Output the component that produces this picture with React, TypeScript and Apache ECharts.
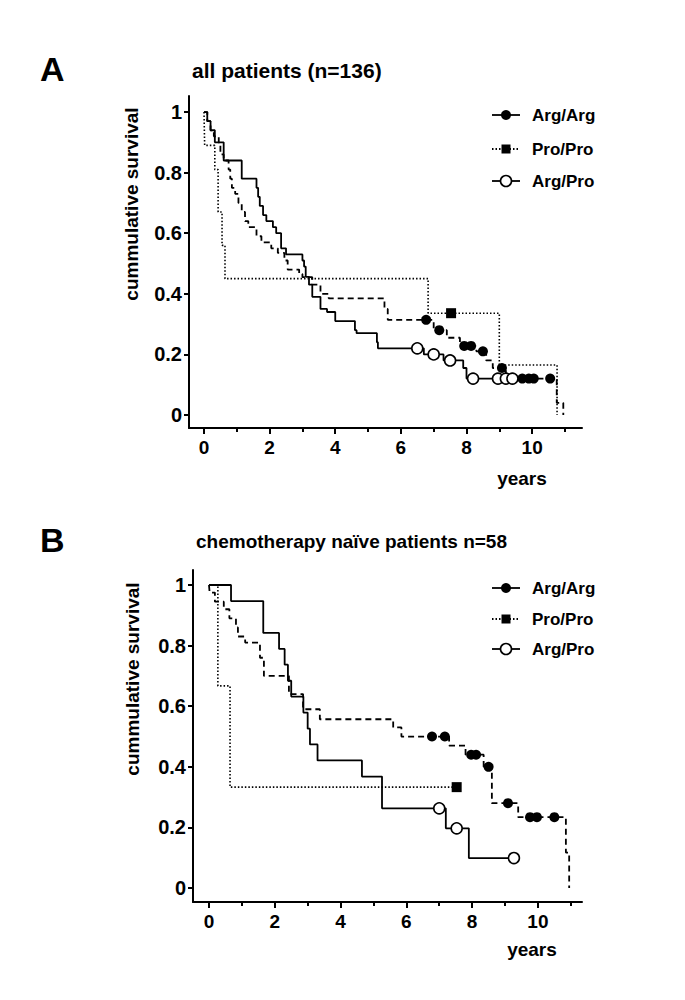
import React, { useEffect, useRef } from "react";
import * as echarts from "echarts";

const FONT = "'Liberation Sans', Arial, Helvetica, sans-serif";

// ---------- Panel A: all patients (n=136) ----------
const aArgArgTimes = [0, 0.1, 0.2, 0.3, 0.45, 0.5, 0.6, 0.75, 0.8, 0.85, 0.95, 1.05, 1.15, 1.25, 1.35, 1.6, 1.75, 2.05, 2.25, 2.45, 2.55, 2.9, 3.0, 3.3, 3.55, 3.8, 5.5, 5.6, 7.0, 7.4, 7.8, 8.3, 8.6, 8.8, 9.2, 10.75, 10.95];
const aArgArgSurv = [1, 0.97, 0.94, 0.92, 0.89, 0.86, 0.84, 0.81, 0.78, 0.75, 0.73, 0.70, 0.67, 0.64, 0.62, 0.59, 0.57, 0.55, 0.535, 0.51, 0.48, 0.465, 0.455, 0.43, 0.40, 0.385, 0.35, 0.314, 0.28, 0.255, 0.228, 0.21, 0.18, 0.155, 0.12, 0.04, 0.0];
const aArgArgCensT = [6.77, 7.17, 7.93, 8.14, 8.5, 9.08, 9.7, 9.9, 10.05, 10.55];
const aArgArgCensS = [0.314, 0.28, 0.228, 0.228, 0.21, 0.155, 0.12, 0.12, 0.12, 0.12];

const aProProTimes = [0, 0.02, 0.33, 0.43, 0.55, 0.64, 6.83, 9.0, 10.76];
const aProProSurv = [1, 0.89, 0.81, 0.67, 0.56, 0.45, 0.336, 0.165, 0.0];
const aProProCensT = [7.53];
const aProProCensS = [0.336];

const aArgProTimes = [0, 0.1, 0.2, 0.33, 0.6, 1.15, 1.6, 1.65, 1.7, 1.8, 1.9, 2.1, 2.2, 2.35, 2.5, 3.0, 3.05, 3.1, 3.2, 3.3, 3.55, 3.75, 4.0, 4.6, 4.65, 5.27, 5.3, 6.7, 7.3, 7.9, 8.0];
const aArgProSurv = [1, 0.97, 0.94, 0.90, 0.84, 0.78, 0.75, 0.72, 0.69, 0.66, 0.64, 0.62, 0.60, 0.55, 0.53, 0.51, 0.49, 0.456, 0.43, 0.39, 0.35, 0.34, 0.31, 0.28, 0.27, 0.24, 0.22, 0.20, 0.18, 0.155, 0.12];
const aArgProCensT = [6.5, 7.0, 7.5, 8.2, 8.96, 9.2, 9.4];
const aArgProCensS = [0.22, 0.20, 0.18, 0.12, 0.12, 0.12, 0.12];

// ---------- Panel B: chemotherapy naïve patients n=58 ----------
const bArgArgTimes = [0, 0.02, 0.18, 0.45, 0.62, 0.82, 0.88, 1.1, 1.55, 1.67, 2.43, 2.86, 3.37, 5.6, 5.85, 7.3, 7.8, 8.35, 8.6, 9.4, 10.85, 10.95];
const bArgArgSurv = [1, 0.975, 0.945, 0.92, 0.89, 0.86, 0.83, 0.81, 0.76, 0.70, 0.64, 0.59, 0.557, 0.53, 0.50, 0.47, 0.44, 0.40, 0.28, 0.234, 0.117, 0.0];
const bArgArgCensT = [6.78, 7.17, 7.97, 8.12, 8.5, 9.09, 9.76, 9.97, 10.5];
const bArgArgCensS = [0.50, 0.50, 0.44, 0.44, 0.40, 0.28, 0.234, 0.234, 0.234];

const bProProTimes = [0, 0.27, 0.64];
const bProProSurv = [1, 0.667, 0.333];
const bProProCensT = [7.53];
const bProProCensS = [0.333];

const bArgProTimes = [0, 0.67, 1.65, 2.13, 2.3, 2.4, 2.5, 2.87, 3.0, 3.07, 3.3, 4.65, 5.26, 7.2, 7.9];
const bArgProSurv = [1, 0.947, 0.842, 0.789, 0.737, 0.684, 0.632, 0.579, 0.526, 0.474, 0.421, 0.368, 0.263, 0.197, 0.099];
const bArgProCensT = [7.0, 7.53, 9.27];
const bArgProCensS = [0.263, 0.197, 0.099];

// ---------- axes ----------
const xMajorTicks = [0, 2, 4, 6, 8, 10];
const xMinorTicks = [1, 3, 5, 7, 9, 11];
const yTicks = [0, 0.2, 0.4, 0.6, 0.8, 1];
const legendNames = ["Arg/Arg", "Pro/Pro", "Arg/Pro"];
const titleA = "all patients (n=136)";
const titleB = "chemotherapy naïve patients n=58";
const yName = "cummulative survival";
const xName = "years";

function stepData(times: number[], surv: number[], censT: number[]) {
  const pts: number[][] = times.map((t, i) => [t, surv[i]]);
  const lastT = times[times.length - 1];
  const maxC = Math.max(...censT);
  if (maxC > lastT) pts.push([maxC, surv[surv.length - 1]]);
  return pts;
}
function pairs(t: number[], s: number[]) {
  return t.map((v, i) => [v, s[i]]);
}

const BLACK = "#000";

function makeSeries(g: number, groups: any[]) {
  const out: any[] = [];
  groups.forEach((gr) => {
    out.push({
      type: "line",
      name: gr.name,
      xAxisIndex: g * 2,
      yAxisIndex: g,
      data: stepData(gr.t, gr.s, gr.ct),
      step: "end",
      symbol: "none",
      silent: true,
      z: 2,
      lineStyle: { color: BLACK, width: gr.width, type: gr.dash, opacity: 1 },
    });
    out.push({
      type: "scatter",
      xAxisIndex: g * 2,
      yAxisIndex: g,
      data: pairs(gr.ct, gr.cs),
      symbol: gr.symbol,
      symbolSize: gr.size,
      silent: true,
      z: 3,
      itemStyle: { ...gr.item, opacity: 1 },
    });
  });
  return out;
}

const filled = { color: BLACK };
const open = { color: "#fff", borderColor: BLACK, borderWidth: 1.6 };

function legendGraphics(rows: number[]) {
  const els: any[] = [];
  rows.forEach((y, i) => {
    els.push({
      type: "line",
      shape: { x1: 492, y1: y, x2: 520, y2: y },
      style: { stroke: BLACK, lineWidth: 1.8, lineDash: i === 1 ? [1.5, 2] : null },
    });
    if (i === 0) els.push({ type: "circle", shape: { cx: 506, cy: y, r: 5 }, style: { fill: BLACK } });
    if (i === 1) els.push({ type: "rect", shape: { x: 501.5, y: y - 4.5, width: 9, height: 9 }, style: { fill: BLACK } });
    if (i === 2) els.push({ type: "circle", shape: { cx: 506, cy: y, r: 5.5 }, style: { fill: "#fff", stroke: BLACK, lineWidth: 1.6 } });
    els.push({
      type: "text",
      x: 532,
      y: y,
      style: { text: legendNames[i], fill: BLACK, font: `bold 17px ${FONT}`, align: "left", verticalAlign: "middle" },
    });
  });
  return els;
}

function xAxes(grid: number, min: number, max: number) {
  return [
    {
      type: "value",
      gridIndex: grid,
      min,
      max,
      position: "bottom",
      axisLine: { show: true, onZero: false, lineStyle: { color: BLACK, width: 2 } },
      splitLine: { show: false },
      axisTick: { show: true, customValues: xMajorTicks, length: 6, lineStyle: { color: BLACK, width: 2 } },
      axisLabel: { customValues: xMajorTicks, color: BLACK, fontSize: 19, fontWeight: "bold", fontFamily: FONT, margin: 10 },
    },
    {
      type: "value",
      gridIndex: grid,
      min,
      max,
      position: "bottom",
      axisLine: { show: false, onZero: false },
      splitLine: { show: false },
      axisTick: { show: true, customValues: xMinorTicks, length: 4, lineStyle: { color: BLACK, width: 2 } },
      axisLabel: { show: false },
    },
  ];
}

function yAxis(grid: number, min: number, max: number) {
  return {
    type: "value",
    gridIndex: grid,
    min,
    max,
    axisLine: { show: true, onZero: false, lineStyle: { color: BLACK, width: 2 } },
    splitLine: { show: false },
    axisTick: { show: true, customValues: yTicks, length: 5, lineStyle: { color: BLACK, width: 2 } },
    axisLabel: { customValues: yTicks, color: BLACK, fontSize: 20, fontWeight: "bold", fontFamily: FONT, margin: 7 },
  };
}

export default function App() {
  const ref = useRef<HTMLDivElement>(null);
  useEffect(() => {
    if (!ref.current) return;
    const chart = echarts.init(ref.current, null, { renderer: "svg" });
    const option: any = {
      animation: false,
      backgroundColor: "#fff",
      grid: [
        { left: 189, right: 103, top: 96, bottom: 572, containLabel: false },
        { left: 193, right: 103, top: 570, bottom: 98, containLabel: false },
      ],
      xAxis: [...xAxes(0, -0.457, 11.52), ...xAxes(1, -0.486, 11.34)],
      yAxis: [yAxis(0, -0.043, 1.053), yAxis(1, -0.046, 1.0495)],
      series: [
        ...makeSeries(0, [
          { name: "Arg/Arg", t: aArgArgTimes, s: aArgArgSurv, ct: aArgArgCensT, cs: aArgArgCensS, dash: [6, 4], width: 1.8, symbol: "circle", size: 10, item: filled },
          { name: "Pro/Pro", t: aProProTimes, s: aProProSurv, ct: aProProCensT, cs: aProProCensS, dash: [1.5, 2], width: 1.6, symbol: "rect", size: 10, item: filled },
          { name: "Arg/Pro", t: aArgProTimes, s: aArgProSurv, ct: aArgProCensT, cs: aArgProCensS, dash: "solid", width: 1.8, symbol: "circle", size: 11, item: open },
        ]),
        ...makeSeries(1, [
          { name: "Arg/Arg", t: bArgArgTimes, s: bArgArgSurv, ct: bArgArgCensT, cs: bArgArgCensS, dash: [6, 4], width: 1.8, symbol: "circle", size: 10, item: filled },
          { name: "Pro/Pro", t: bProProTimes, s: bProProSurv, ct: bProProCensT, cs: bProProCensS, dash: [1.5, 2], width: 1.6, symbol: "rect", size: 10, item: filled },
          { name: "Arg/Pro", t: bArgProTimes, s: bArgProSurv, ct: bArgProCensT, cs: bArgProCensS, dash: "solid", width: 1.8, symbol: "circle", size: 11, item: open },
        ]),
      ],
      graphic: [
        { type: "text", x: 40, y: 69, style: { text: "A", fill: BLACK, font: `bold 34px ${FONT}`, align: "left", verticalAlign: "middle" } },
        { type: "text", x: 192, y: 70, style: { text: titleA, fill: BLACK, font: `bold 21px ${FONT}`, align: "left", verticalAlign: "middle" } },
        { type: "text", x: 40, y: 540, style: { text: "B", fill: BLACK, font: `bold 34px ${FONT}`, align: "left", verticalAlign: "middle" } },
        { type: "text", x: 196, y: 541, style: { text: titleB, fill: BLACK, font: `bold 19px ${FONT}`, align: "left", verticalAlign: "middle" } },
        { type: "text", x: 131, y: 204, rotation: Math.PI / 2, style: { text: yName, fill: BLACK, font: `bold 19px ${FONT}`, align: "center", verticalAlign: "middle" } },
        { type: "text", x: 132, y: 679, rotation: Math.PI / 2, style: { text: yName, fill: BLACK, font: `bold 19px ${FONT}`, align: "center", verticalAlign: "middle" } },
        { type: "text", x: 522, y: 478, style: { text: xName, fill: BLACK, font: `bold 19px ${FONT}`, align: "center", verticalAlign: "middle" } },
        { type: "text", x: 532, y: 949, style: { text: xName, fill: BLACK, font: `bold 19px ${FONT}`, align: "center", verticalAlign: "middle" } },
        ...legendGraphics([115, 149, 181]),
        ...legendGraphics([588, 619, 649]),
      ],
    };
    chart.setOption(option);
    return () => chart.dispose();
  }, []);
  return (
    <div
      ref={ref}
      style={{ position: "absolute", left: 0, top: 0, width: 685, height: 1000, background: "#fff" }}
    />
  );
}
